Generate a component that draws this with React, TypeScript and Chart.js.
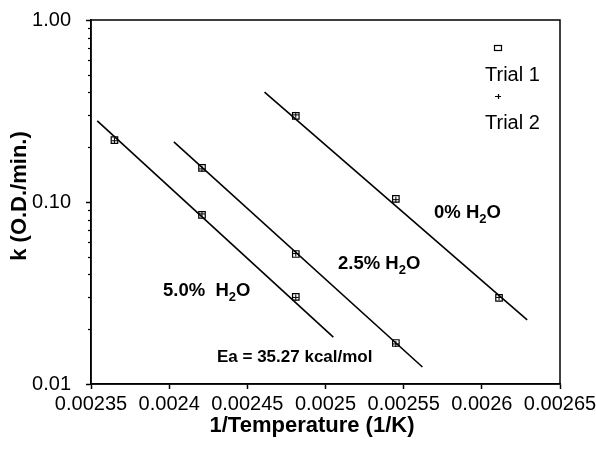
import React, { useEffect, useRef } from 'react';
import { Chart, registerables } from 'chart.js';

Chart.register(...registerables);

// ---- data ----
const xTicks = [0.00235, 0.0024, 0.00245, 0.0025, 0.00255, 0.0026, 0.00265];
const yMajorTicks = [0.01, 0.1, 1];
const yMinorTicks = [0.02, 0.03, 0.04, 0.05, 0.06, 0.07, 0.08, 0.09, 0.2, 0.3, 0.4, 0.5, 0.6, 0.7, 0.8, 0.9];

// 5.0% H2O
const invT50 = [0.002365, 0.002421, 0.002481];
const k50Trial1 = [0.219, 0.0849, 0.0301];
const k50Trial2 = [0.217, 0.086, 0.0299];
// 2.5% H2O
const invT25 = [0.002421, 0.002481, 0.002545];
const k25Trial1 = [0.154, 0.0518, 0.0168];
const k25Trial2 = [0.152, 0.0521, 0.0166];
// 0% H2O
const invT0 = [0.002481, 0.002545, 0.002611];
const k0Trial1 = [0.297, 0.104, 0.0297];
const k0Trial2 = [0.301, 0.103, 0.0299];

// Arrhenius fit lines (end points)
const fit50X = [0.002354, 0.002505];
const fit50K = [0.279, 0.0181];
const fit25X = [0.002403, 0.002562];
const fit25K = [0.214, 0.0124];
const fit0X = [0.002461, 0.002629];
const fit0K = [0.402, 0.0225];

const FONT = "'Liberation Sans', Arial, Helvetica, sans-serif";

function pts(xs: number[], ys: number[]) {
  return xs.map((x, i) => ({ x, y: ys[i] }));
}

function drawSubText(ctx: CanvasRenderingContext2D, x: number, y: number, parts: [string, boolean][], size: number) {
  let cx = x;
  ctx.textAlign = 'left';
  ctx.textBaseline = 'alphabetic';
  for (const [t, sub] of parts) {
    const s = sub ? Math.round(size * 0.72) : size;
    ctx.font = `bold ${s}px ${FONT}`;
    ctx.fillText(t, cx, sub ? y + size * 0.25 : y);
    cx += ctx.measureText(t).width;
  }
}

const decorPlugin = {
  id: 'decor',
  afterDraw(chart: any) {
    const { ctx, chartArea: a, scales } = chart;
    ctx.save();
    ctx.strokeStyle = '#000';
    ctx.fillStyle = '#000';
    // box
    ctx.lineWidth = 1.5;
    ctx.strokeRect(a.left, a.top, a.right - a.left, a.bottom - a.top);
    // minor y ticks
    ctx.lineWidth = 1.2;
    for (const v of yMinorTicks) {
      const py = Math.round(scales.y.getPixelForValue(v)) + 0.5;
      ctx.beginPath();
      ctx.moveTo(a.left - 3, py);
      ctx.lineTo(a.left, py);
      ctx.stroke();
    }
    // axis titles
    ctx.font = `bold 22px ${FONT}`;
    ctx.textAlign = 'center';
    ctx.textBaseline = 'middle';
    ctx.fillText('1/Temperature (1/K)', 312, 426);
    ctx.save();
    ctx.translate(20, 196);
    ctx.rotate(-Math.PI / 2);
    ctx.fillText('k (O.D./min.)', 0, 0);
    ctx.restore();
    // annotations
    drawSubText(ctx, 434, 218, [['0% H', false], ['2', true], ['O', false]], 18.5);
    drawSubText(ctx, 338, 269, [['2.5% H', false], ['2', true], ['O', false]], 18.5);
    drawSubText(ctx, 163, 296, [['5.0%  H', false], ['2', true], ['O', false]], 18.5);
    ctx.font = `bold 17px ${FONT}`;
    ctx.textAlign = 'left';
    ctx.textBaseline = 'alphabetic';
    ctx.fillText('Ea = 35.27 kcal/mol', 217, 362);
    // legend
    ctx.lineWidth = 1.2;
    ctx.strokeRect(494.5, 45.5, 7, 5);
    ctx.beginPath();
    ctx.moveTo(495, 96.5);
    ctx.lineTo(501, 96.5);
    ctx.moveTo(498.5, 94);
    ctx.lineTo(498.5, 99);
    ctx.stroke();
    ctx.font = `20px ${FONT}`;
    ctx.textAlign = 'left';
    ctx.textBaseline = 'middle';
    ctx.fillText('Trial 1', 485, 75);
    ctx.fillText('Trial 2', 485, 123);
    ctx.restore();
  },
};

export default function App() {
  const ref = useRef<HTMLCanvasElement>(null);
  useEffect(() => {
    if (!ref.current) return;
    const trial1 = (data: any) => ({
      data,
      showLine: false,
      pointStyle: 'rect',
      pointRadius: 4.6,
      pointBorderColor: '#000',
      pointBackgroundColor: 'rgba(0,0,0,0)',
      pointBorderWidth: 1.2,
    });
    const trial2 = (data: any) => ({
      data,
      showLine: false,
      pointStyle: 'cross',
      pointRadius: 3,
      pointBorderColor: '#000',
      pointBorderWidth: 1,
    });
    const fit = (data: any) => ({
      data,
      showLine: true,
      pointRadius: 0,
      borderColor: '#000',
      borderWidth: 1.6,
      fill: false,
    });
    const chart = new Chart(ref.current, {
      type: 'scatter',
      data: {
        datasets: [
          fit(pts(fit50X, fit50K)),
          fit(pts(fit25X, fit25K)),
          fit(pts(fit0X, fit0K)),
          trial1(pts(invT50, k50Trial1)),
          trial1(pts(invT25, k25Trial1)),
          trial1(pts(invT0, k0Trial1)),
          trial2(pts(invT50, k50Trial2)),
          trial2(pts(invT25, k25Trial2)),
          trial2(pts(invT0, k0Trial2)),
        ] as any,
      },
      options: {
        animation: false,
        responsive: false,
        layout: { padding: { top: 20, right: 36, left: 0, bottom: 0 } },
        plugins: { legend: { display: false }, tooltip: { enabled: false } },
        scales: {
          x: {
            type: 'linear',
            min: 0.00235,
            max: 0.00265,
            afterBuildTicks: (s: any) => {
              s.ticks = xTicks.map((v) => ({ value: v }));
            },
            afterFit: (s: any) => {
              s.height = 67;
              s.paddingLeft = 0;
              s.paddingRight = 0;
              s.paddingTop = 0;
              s.paddingBottom = 0;
            },
            ticks: {
              autoSkip: false,
              maxRotation: 0,
              color: '#000',
              padding: 3,
              font: { family: FONT, size: 20 },
              callback: (v: any) => String(Number(Number(v).toFixed(5))),
            },
            grid: { drawOnChartArea: false, tickLength: 5, tickColor: '#000', tickWidth: 1.5 },
            border: { display: true, color: '#000', width: 1.5 },
          },
          y: {
            type: 'logarithmic',
            min: 0.01,
            max: 1,
            afterBuildTicks: (s: any) => {
              s.ticks = yMajorTicks.map((v) => ({ value: v }));
            },
            afterFit: (s: any) => {
              s.width = 91;
              s.paddingLeft = 0;
              s.paddingRight = 0;
              s.paddingTop = 0;
              s.paddingBottom = 0;
            },
            ticks: {
              autoSkip: false,
              color: '#000',
              padding: 15,
              font: { family: FONT, size: 20 },
              callback: (v: any) => Number(v).toFixed(2),
            },
            grid: { drawOnChartArea: false, tickLength: 5, tickColor: '#000', tickWidth: 1.5 },
            border: { display: true, color: '#000', width: 1.5 },
          },
        },
      },
      plugins: [decorPlugin],
    } as any);
    return () => chart.destroy();
  }, []);
  return (
    <div style={{ position: 'fixed', left: 0, top: 0, width: 596, height: 451, background: '#fff' }}>
      <canvas ref={ref} width={596} height={451} />
    </div>
  );
}
